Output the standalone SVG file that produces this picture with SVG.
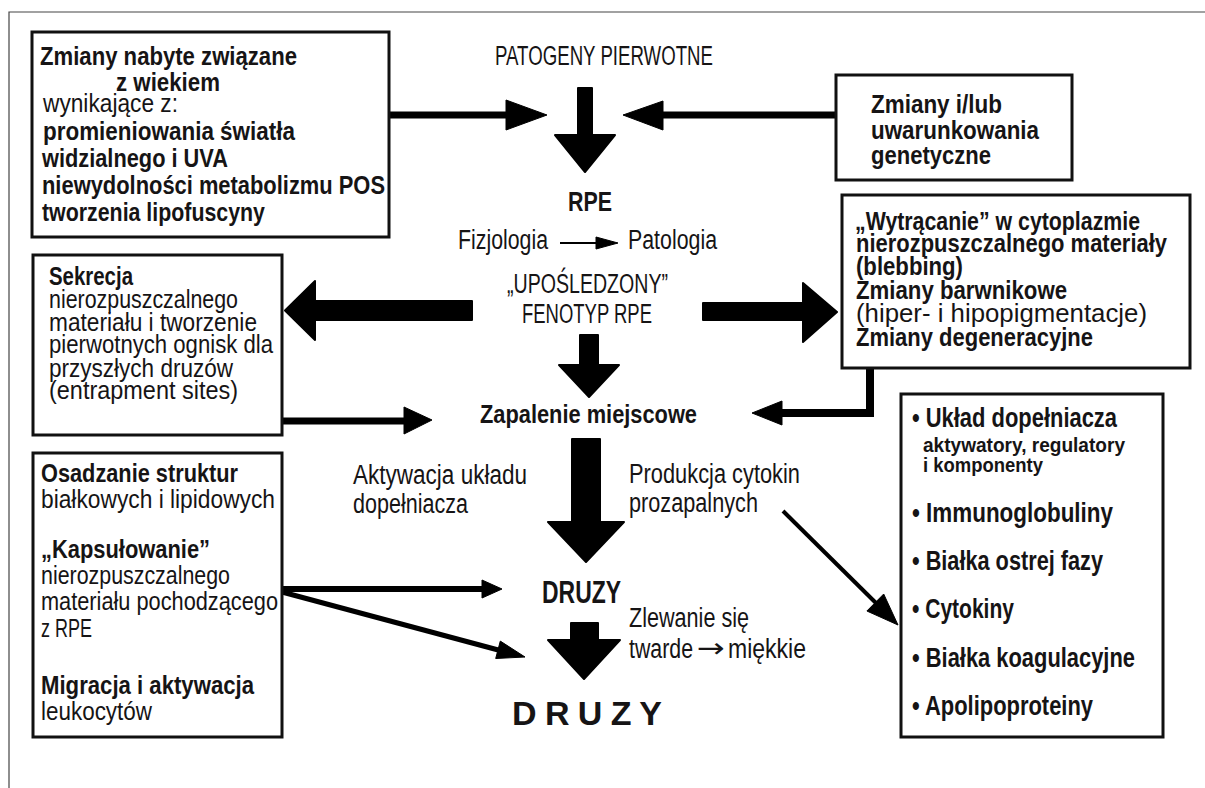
<svg xmlns="http://www.w3.org/2000/svg" width="1205" height="788" viewBox="0 0 1205 788">
<style>
text{font-family:"Liberation Sans",Arial,sans-serif;fill:#161415}
.b{font-weight:bold}
.s25{font-size:25px}
.s27{font-size:27px}
.s28{font-size:28px}
.s20{font-size:20px}
.box{fill:#fff;stroke:#111;stroke-width:3}
.fat{fill:#000;stroke:#000;stroke-width:2;stroke-linejoin:round}
.ln{fill:none;stroke:#000;stroke-linecap:butt}
.hd{fill:#000;stroke:#000;stroke-width:1;stroke-linejoin:round}
</style>
<rect width="1205" height="788" fill="#fff"/>
<path d="M9 788 V12 H1205" fill="none" stroke="#444" stroke-width="1.2"/>

<g id="connectors">
  <polygon class="fat" points="578,88 592,88 592,135 615,135 585,172 555,135 578,135"/>
  <polygon class="fat" points="580,335 598,335 598,365 619,365 589,397 559,365 580,365"/>
  <polygon class="fat" points="572,439 600,439 600,522 624,522 586,562 548,522 572,522"/>
  <polygon class="fat" points="571,623 598,623 598,640 620,640 584,679 548,640 571,640"/>
  <polygon class="fat" points="472,301 472,320 315,320 315,340 285,310.5 315,281 315,301"/>
  <polygon class="fat" points="703,303 803,303 803,283 837,312 803,342 803,320 703,320"/>
  <line class="ln" x1="389" y1="115" x2="510" y2="115" stroke-width="7"/>
  <polygon class="hd" points="506,100 547,115 506,130"/>
  <line class="ln" x1="836" y1="115" x2="660" y2="115" stroke-width="7"/>
  <polygon class="hd" points="663,101 623,115 663,130"/>
  <line class="ln" x1="560" y1="243" x2="600" y2="243" stroke-width="2"/>
  <polygon class="hd" points="596,237 618,243 596,249"/>
  <line class="ln" x1="282" y1="421" x2="408" y2="421" stroke-width="7"/>
  <polygon class="hd" points="404,407 432,420 404,434"/>
  <polyline class="ln" points="870,368 870,413 780,413" stroke-width="8"/>
  <polygon class="hd" points="782,401 752,413 782,425"/>
  <line class="ln" x1="282" y1="589" x2="486" y2="589" stroke-width="6"/>
  <polygon class="hd" points="482,580 502,589 482,598"/>
  <line class="ln" x1="282" y1="592" x2="502" y2="651" stroke-width="5"/>
  <polygon class="hd" points="495.7,658.5 525,657 500.3,641.1"/>
  <line class="ln" x1="783" y1="511" x2="879" y2="606" stroke-width="4"/>
  <polygon class="hd" points="866.9,611 898,625 883.7,594"/>
</g>

<g id="n-age">
  <rect class="box" x="32" y="32" width="357" height="205"/>
  <text class="b s25" x="40" y="65" textLength="257" lengthAdjust="spacingAndGlyphs">Zmiany nabyte związane</text>
  <text class="b s25" x="116" y="91" textLength="104" lengthAdjust="spacingAndGlyphs">z wiekiem</text>
  <text class="s25" x="43" y="112" textLength="135" lengthAdjust="spacingAndGlyphs">wynikające z:</text>
  <text class="b s25" x="43" y="140" textLength="252" lengthAdjust="spacingAndGlyphs">promieniowania światła</text>
  <text class="b s25" x="42" y="167" textLength="186" lengthAdjust="spacingAndGlyphs">widzialnego i UVA</text>
  <text class="b s25" x="42" y="194" textLength="343" lengthAdjust="spacingAndGlyphs">niewydolności metabolizmu POS</text>
  <text class="b s25" x="42" y="221" textLength="223" lengthAdjust="spacingAndGlyphs">tworzenia lipofuscyny</text>
</g>

<g id="n-patogeny">
  <text class="s27" x="495" y="65" textLength="218" lengthAdjust="spacingAndGlyphs">PATOGENY PIERWOTNE</text>
</g>

<g id="n-genetic">
  <rect class="box" x="836" y="75" width="236" height="105"/>
  <text class="b s25" x="871" y="113" textLength="131" lengthAdjust="spacingAndGlyphs">Zmiany i/lub</text>
  <text class="b s25" x="871" y="139" textLength="168" lengthAdjust="spacingAndGlyphs">uwarunkowania</text>
  <text class="b s25" x="871" y="164" textLength="120" lengthAdjust="spacingAndGlyphs">genetyczne</text>
</g>

<g id="n-rpe">
  <text class="b s28" x="568" y="211" textLength="44" lengthAdjust="spacingAndGlyphs">RPE</text>
  <text class="s27" x="458" y="249" textLength="90" lengthAdjust="spacingAndGlyphs">Fizjologia</text>
  <text class="s27" x="628" y="249" textLength="89" lengthAdjust="spacingAndGlyphs">Patologia</text>
  <text class="s27" x="507" y="293" textLength="161" lengthAdjust="spacingAndGlyphs">„UPOŚLEDZONY”</text>
  <text class="s27" x="522" y="323" textLength="130" lengthAdjust="spacingAndGlyphs">FENOTYP RPE</text>
</g>

<g id="n-sekrecja">
  <rect class="box" x="33" y="255" width="249" height="180"/>
  <text class="b s25" x="49" y="285" textLength="84" lengthAdjust="spacingAndGlyphs">Sekrecja</text>
  <text class="s25" x="49" y="308" textLength="189" lengthAdjust="spacingAndGlyphs">nierozpuszczalnego</text>
  <text class="s25" x="49" y="331" textLength="208" lengthAdjust="spacingAndGlyphs">materiału i tworzenie</text>
  <text class="s25" x="49" y="353" textLength="224" lengthAdjust="spacingAndGlyphs">pierwotnych ognisk dla</text>
  <text class="s25" x="49" y="377" textLength="184" lengthAdjust="spacingAndGlyphs">przyszłych druzów</text>
  <text class="s25" x="49" y="399" textLength="189" lengthAdjust="spacingAndGlyphs">(entrapment sites)</text>
</g>

<g id="n-wytracanie">
  <rect class="box" x="842" y="195" width="348" height="173"/>
  <text class="b s25" x="855" y="230" textLength="285" lengthAdjust="spacingAndGlyphs">„Wytrącanie” w cytoplazmie</text>
  <text class="b s25" x="856" y="252" textLength="311" lengthAdjust="spacingAndGlyphs">nierozpuszczalnego materiały</text>
  <text class="b s25" x="856" y="275" textLength="107" lengthAdjust="spacingAndGlyphs">(blebbing)</text>
  <text class="b s25" x="856" y="299" textLength="211" lengthAdjust="spacingAndGlyphs">Zmiany barwnikowe</text>
  <text class="s25" x="856" y="322" textLength="291" lengthAdjust="spacingAndGlyphs">(hiper- i hipopigmentacje)</text>
  <text class="b s25" x="856" y="346" textLength="237" lengthAdjust="spacingAndGlyphs">Zmiany degeneracyjne</text>
</g>

<g id="n-zapalenie">
  <text class="b" font-size="26" x="480" y="423" textLength="217" lengthAdjust="spacingAndGlyphs">Zapalenie miejscowe</text>
</g>

<g id="n-osadzanie">
  <rect class="box" x="33" y="453" width="249" height="284"/>
  <text class="b s25" x="41" y="482" textLength="197" lengthAdjust="spacingAndGlyphs">Osadzanie struktur</text>
  <text class="s25" x="41" y="508" textLength="234" lengthAdjust="spacingAndGlyphs">białkowych i lipidowych</text>
  <text class="b s25" x="41" y="558" textLength="169" lengthAdjust="spacingAndGlyphs">„Kapsułowanie”</text>
  <text class="s25" x="41" y="584" textLength="189" lengthAdjust="spacingAndGlyphs">nierozpuszczalnego</text>
  <text class="s25" x="41" y="610" textLength="237" lengthAdjust="spacingAndGlyphs">materiału pochodzącego</text>
  <text class="s25" x="41" y="637" textLength="51" lengthAdjust="spacingAndGlyphs">z RPE</text>
  <text class="b s25" x="41" y="694" textLength="213" lengthAdjust="spacingAndGlyphs">Migracja i aktywacja</text>
  <text class="s25" x="41" y="720" textLength="111" lengthAdjust="spacingAndGlyphs">leukocytów</text>
</g>

<g id="n-labels">
  <text class="s27" x="353" y="484" textLength="174" lengthAdjust="spacingAndGlyphs">Aktywacja układu</text>
  <text class="s27" x="353" y="513" textLength="115" lengthAdjust="spacingAndGlyphs">dopełniacza</text>
  <text class="s27" x="629" y="483" textLength="171" lengthAdjust="spacingAndGlyphs">Produkcja cytokin</text>
  <text class="s27" x="629" y="512" textLength="129" lengthAdjust="spacingAndGlyphs">prozapalnych</text>
  <text class="s27" x="629" y="627" textLength="120" lengthAdjust="spacingAndGlyphs">Zlewanie się</text>
  <text class="s27" x="629" y="658" textLength="64" lengthAdjust="spacingAndGlyphs">twarde</text>
  <text class="s27" x="697" y="657" textLength="28" lengthAdjust="spacingAndGlyphs" style="font-family:'DejaVu Sans',sans-serif">→</text>
  <text class="s27" x="728" y="658" textLength="78" lengthAdjust="spacingAndGlyphs">miękkie</text>
</g>

<g id="n-druzy1">
  <text class="b" font-size="32" x="542" y="603" textLength="79" lengthAdjust="spacingAndGlyphs">DRUZY</text>
</g>

<g id="n-druzy2">
  <text class="b" font-size="34" x="512" y="725" textLength="150" lengthAdjust="spacing">D R U Z Y</text>
</g>

<g id="n-list">
  <rect class="box" x="901" y="394" width="262" height="343"/>
  <text class="b s28" x="912" y="427" textLength="205" lengthAdjust="spacingAndGlyphs">• Układ dopełniacza</text>
  <text class="b s20" x="923" y="452" textLength="202" lengthAdjust="spacingAndGlyphs">aktywatory, regulatory</text>
  <text class="b s20" x="923" y="472" textLength="120" lengthAdjust="spacingAndGlyphs">i komponenty</text>
  <text class="b s28" x="912" y="522" textLength="201" lengthAdjust="spacingAndGlyphs">• Immunoglobuliny</text>
  <text class="b s28" x="912" y="570" textLength="191" lengthAdjust="spacingAndGlyphs">• Białka ostrej fazy</text>
  <text class="b s28" x="912" y="618" textLength="102" lengthAdjust="spacingAndGlyphs">• Cytokiny</text>
  <text class="b s28" x="912" y="667" textLength="223" lengthAdjust="spacingAndGlyphs">• Białka koagulacyjne</text>
  <text class="b s28" x="912" y="715" textLength="181" lengthAdjust="spacingAndGlyphs">• Apolipoproteiny</text>
</g>
</svg>
